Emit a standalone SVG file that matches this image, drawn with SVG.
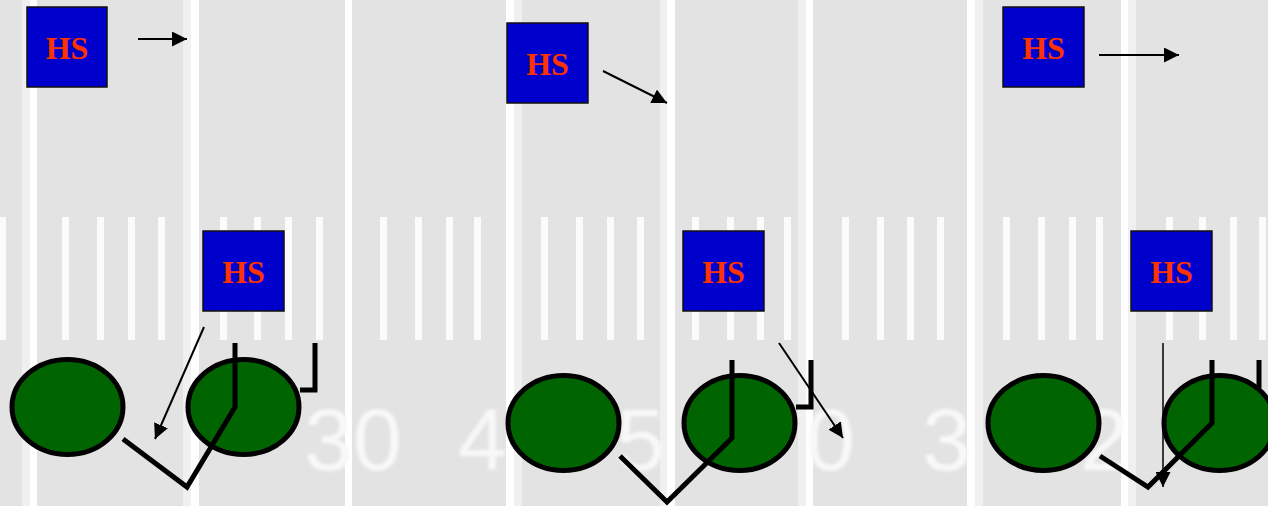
<svg xmlns="http://www.w3.org/2000/svg" width="1268" height="506" viewBox="0 0 1268 506">
  <style>
    .yard{fill:#ffffff}
    .halo{fill:#f0f0f0}
    .hash{fill:#fbfbfb}
    .num{font-family:"Liberation Sans",Arial,sans-serif;font-size:88px;fill:#f8f8f8}
    .box{fill:#0000cc;stroke:#111;stroke-width:1.5}
    .lbl{font-family:"Liberation Serif","Times New Roman",serif;font-weight:bold;font-size:32px;fill:#ff3300;text-anchor:middle}
    .player{fill:#006400;stroke:#000;stroke-width:5}
    .route{fill:none;stroke:#000;stroke-width:5;stroke-linejoin:miter;stroke-linecap:butt}
    .arrow{fill:none;stroke:#000;stroke-width:2;marker-end:url(#ah)}
  </style>
  <defs>
    <marker id="ah" viewBox="0 0 15 15" refX="15" refY="7.5" markerWidth="15" markerHeight="15" markerUnits="userSpaceOnUse" orient="auto">
      <path d="M0,0 L15,7.5 L0,15 z" fill="#000"/>
    </marker>
    <filter id="soft" x="-10%" y="-10%" width="120%" height="120%">
      <feGaussianBlur stdDeviation="1.6"/>
    </filter>
  </defs>

  <!-- field background -->
  <g id="field">
    <rect x="0" y="0" width="1268" height="506" fill="#e3e3e3"/>
    <!-- hash marks -->
    <g>
      <rect class="hash" x="0" y="217" width="6" height="123"/>
      <rect class="hash" x="62" y="217" width="7" height="123"/>
      <rect class="hash" x="97" y="217" width="7" height="123"/>
      <rect class="hash" x="128" y="217" width="7" height="123"/>
      <rect class="hash" x="158" y="217" width="7" height="123"/>
      <rect class="hash" x="220" y="217" width="7" height="123"/>
      <rect class="hash" x="254" y="217" width="7" height="123"/>
      <rect class="hash" x="285" y="217" width="7" height="123"/>
      <rect class="hash" x="316" y="217" width="7" height="123"/>
      <rect class="hash" x="380" y="217" width="7" height="123"/>
      <rect class="hash" x="415" y="217" width="7" height="123"/>
      <rect class="hash" x="446" y="217" width="7" height="123"/>
      <rect class="hash" x="474" y="217" width="7" height="123"/>
      <rect class="hash" x="541" y="217" width="7" height="123"/>
      <rect class="hash" x="576" y="217" width="7" height="123"/>
      <rect class="hash" x="607" y="217" width="7" height="123"/>
      <rect class="hash" x="637" y="217" width="7" height="123"/>
      <rect class="hash" x="692" y="217" width="7" height="123"/>
      <rect class="hash" x="727" y="217" width="7" height="123"/>
      <rect class="hash" x="757" y="217" width="7" height="123"/>
      <rect class="hash" x="784" y="217" width="7" height="123"/>
      <rect class="hash" x="842" y="217" width="7" height="123"/>
      <rect class="hash" x="877" y="217" width="7" height="123"/>
      <rect class="hash" x="907" y="217" width="7" height="123"/>
      <rect class="hash" x="937" y="217" width="7" height="123"/>
      <rect class="hash" x="1003" y="217" width="7" height="123"/>
      <rect class="hash" x="1038" y="217" width="7" height="123"/>
      <rect class="hash" x="1069" y="217" width="7" height="123"/>
      <rect class="hash" x="1096" y="217" width="7" height="123"/>
      <rect class="hash" x="1166" y="217" width="7" height="123"/>
      <rect class="hash" x="1199" y="217" width="7" height="123"/>
      <rect class="hash" x="1230" y="217" width="7" height="123"/>
      <rect class="hash" x="1259" y="217" width="7" height="123"/>
    </g>
    <!-- yard lines -->
    <g>
      <rect class="halo" x="22" y="0" width="8" height="506"/>
      <rect class="yard" x="30" y="0" width="7" height="506"/>
      <rect class="halo" x="183" y="0" width="8" height="506"/>
      <rect class="yard" x="191" y="0" width="8" height="506"/>
      <rect class="yard" x="345" y="0" width="7" height="506"/>
      <rect class="yard" x="506" y="0" width="8" height="506"/>
      <rect class="halo" x="514" y="0" width="8" height="506"/>
      <rect class="halo" x="660" y="0" width="7" height="506"/>
      <rect class="yard" x="667" y="0" width="8" height="506"/>
      <rect class="halo" x="798" y="0" width="8" height="506"/>
      <rect class="yard" x="806" y="0" width="7" height="506"/>
      <rect class="yard" x="967" y="0" width="8" height="506"/>
      <rect class="halo" x="975" y="0" width="8" height="506"/>
      <rect class="yard" x="1121" y="0" width="7" height="506"/>
      <rect class="halo" x="1128" y="0" width="8" height="506"/>
    </g>
    <!-- yard numbers -->
    <g filter="url(#soft)">
      <text class="num" x="304" y="470">30</text>
      <text class="num" x="458" y="470">4</text>
      <text class="num" x="616" y="470">5</text>
      <text class="num" x="806" y="470">0</text>
      <text class="num" x="922" y="470">3</text>
      <text class="num" x="1080" y="470">2</text>
    </g>
  </g>

  <!-- panel 1 nodes -->
  <g id="hs-1a"><rect class="box" x="27" y="7" width="80" height="80"/><text class="lbl" x="67" y="59">HS</text></g>
  <g id="hs-1b"><rect class="box" x="203" y="231" width="81" height="80"/><text class="lbl" x="243.5" y="283">HS</text></g>
  <g id="p-1a"><ellipse class="player" cx="67.5" cy="407" rx="55.5" ry="47.5"/></g>
  <g id="p-1b"><ellipse class="player" cx="243.5" cy="407" rx="55.5" ry="47.5"/></g>

  <!-- panel 2 nodes -->
  <g id="hs-2a"><rect class="box" x="507" y="23" width="81" height="80"/><text class="lbl" x="547.5" y="75">HS</text></g>
  <g id="hs-2b"><rect class="box" x="683" y="231" width="81" height="80"/><text class="lbl" x="723.5" y="283">HS</text></g>
  <g id="p-2a"><ellipse class="player" cx="563.5" cy="423" rx="55.5" ry="47.5"/></g>
  <g id="p-2b"><ellipse class="player" cx="739.5" cy="423" rx="55.5" ry="47.5"/></g>

  <!-- panel 3 nodes -->
  <g id="hs-3a"><rect class="box" x="1003" y="7" width="81" height="80"/><text class="lbl" x="1043.5" y="59">HS</text></g>
  <g id="hs-3b"><rect class="box" x="1131" y="231" width="81" height="80"/><text class="lbl" x="1171.5" y="283">HS</text></g>
  <g id="p-3a"><ellipse class="player" cx="1043.5" cy="423" rx="55.5" ry="47.5"/></g>
  <g id="p-3b"><ellipse class="player" cx="1219.5" cy="423" rx="55.5" ry="47.5"/></g>

  <!-- connectors -->
  <g id="connectors">
    <line class="arrow" x1="138" y1="39" x2="187" y2="39"/>
    <line class="arrow" x1="204" y1="327" x2="155" y2="439"/>
    <line class="arrow" x1="603" y1="71" x2="667" y2="103"/>
    <line class="arrow" x1="779" y1="343" x2="843" y2="438"/>
    <line class="arrow" x1="1099" y1="55" x2="1179" y2="55"/>
    <line class="arrow" x1="1163" y1="343" x2="1163" y2="487" style="stroke-width:1.5"/>

    <polyline class="route" points="235,343 235,407 187,487 123,439"/>
    <polyline class="route" points="300,390 315,390 315,343"/>
    <polyline class="route" points="732,360 732,438 667,502 620,456"/>
    <polyline class="route" points="796,407 811,407 811,360"/>
    <polyline class="route" points="1212,360 1212,423 1148,487 1100,456"/>
    <polyline class="route" points="1259,360 1259,388"/>
  </g>
</svg>
